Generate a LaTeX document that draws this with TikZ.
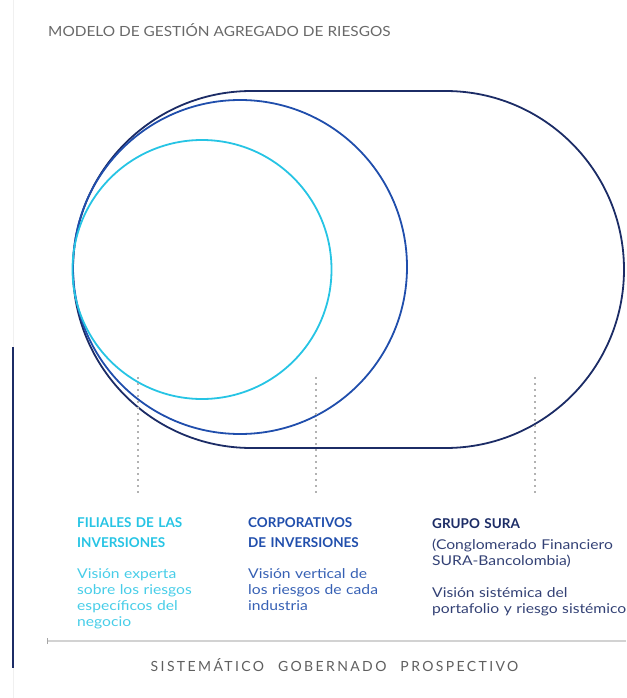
\documentclass[tikz,border=0pt]{standalone}
\usepackage{fontspec}
\setmainfont{Lato}
\newfontfamily\spacedfont[LetterSpace=17]{Lato}
\newfontfamily\anchafont[FakeStretch=1.16]{Lato}
\newfontfamily\titulofont[FakeStretch=1.1]{Lato}
\definecolor{suraCyan}{RGB}{38,196,228}
\definecolor{suraBlue}{RGB}{32,78,172}
\definecolor{suraNavy}{RGB}{28,44,102}
\definecolor{grisT}{RGB}{105,105,105}

\begin{document}
\begin{tikzpicture}[x=1pt,y=-1pt,
    titulo/.style={anchor=base west,inner sep=0pt,text=grisT,font=\titulofont\fontsize{14}{16}\selectfont},
    cabeza/.style={anchor=base west,inner sep=0pt,align=left,text width=200pt,font=\bfseries\fontsize{13.5}{20}\selectfont},
    cuerpo/.style={anchor=base west,inner sep=0pt,align=left,text width=200pt,font=\anchafont\fontsize{13.5}{16}\selectfont},
    guia/.style={gray!60,line width=1.5pt,dash pattern=on 1.5pt off 4.5pt}]
    \useasboundingbox (0,0) rectangle (626,698);
    \coordinate (bordeA) at (13,0);
    \coordinate (bordeB) at (13,698);
    \coordinate (bordeC) at (13,347);
    \coordinate (bordeD) at (13,668);
    \draw[gray!12,line width=1pt] (bordeA)--(bordeB);
    \draw[suraNavy,line width=1.5pt] (bordeC)--(bordeD);

    \node[titulo] (titulo) at (48,37) {MODELO DE GESTIÓN AGREGADO DE RIESGOS};

    \draw[suraNavy,line width=1.8pt] (251.5,91)--(445.5,91) arc[start angle=90,end angle=-90,radius=178.5pt]
        --(251.5,448) arc[start angle=270,end angle=90,radius=178.5pt]--cycle;
    \draw[suraBlue,line width=1.8pt] (240,267) circle (167pt);
    \draw[suraCyan,line width=1.8pt] (202,269.5) circle (129.5pt);

    \coordinate (filialesA) at (138,377);
    \coordinate (filialesB) at (138,497);
    \coordinate (corporA) at (316,377);
    \coordinate (corporB) at (316,497);
    \coordinate (grupoA) at (535,377);
    \coordinate (grupoB) at (535,497);
    \draw[guia] (filialesA)--(filialesB);
    \draw[guia] (corporA)--(corporB);
    \draw[guia] (grupoA)--(grupoB);

    \node[cabeza,text=suraCyan] (filiales) at (77,527) {FILIALES DE LAS\\INVERSIONES};
    \node[cuerpo,text=suraCyan!85] (filialesTxt) at (77,578) {Visión experta\\sobre los riesgos\\específicos del\\negocio};
    \node[cabeza,text=suraBlue] (corpor) at (248,527) {CORPORATIVOS\\DE INVERSIONES};
    \node[cuerpo,text=suraBlue!90] (corporTxt) at (248,578) {Visión vertical de\\los riesgos de cada\\industria};
    \node[cabeza,text=suraNavy] (grupo) at (432,528) {GRUPO SURA};
    \node[cuerpo,text=suraNavy!90] (grupoTxt) at (432,549) {(Conglomerado Financiero\\SURA-Bancolombia)};
    \node[cuerpo,text=suraNavy!90] (grupoTxt2) at (432,597) {Visión sistémica del\\portafolio y riesgo sistémico};

    \coordinate (baseA) at (47,641);
    \coordinate (baseB) at (626,641);
    \draw[gray!35,line width=1.5pt] (baseA)--(baseB);
    \draw[gray!70,line width=0.8pt] ([yshift=-3pt]baseA)--([yshift=3pt]baseA);
    \node[anchor=base,inner sep=0pt,text=grisT!90!black,font=\spacedfont\fontsize{14}{16}\selectfont] (ejes) at (334.5,671)
        {SISTEMÁTICO\hspace{8pt} GOBERNADO\hspace{8pt} PROSPECTIVO};
\end{tikzpicture}
\end{document}
